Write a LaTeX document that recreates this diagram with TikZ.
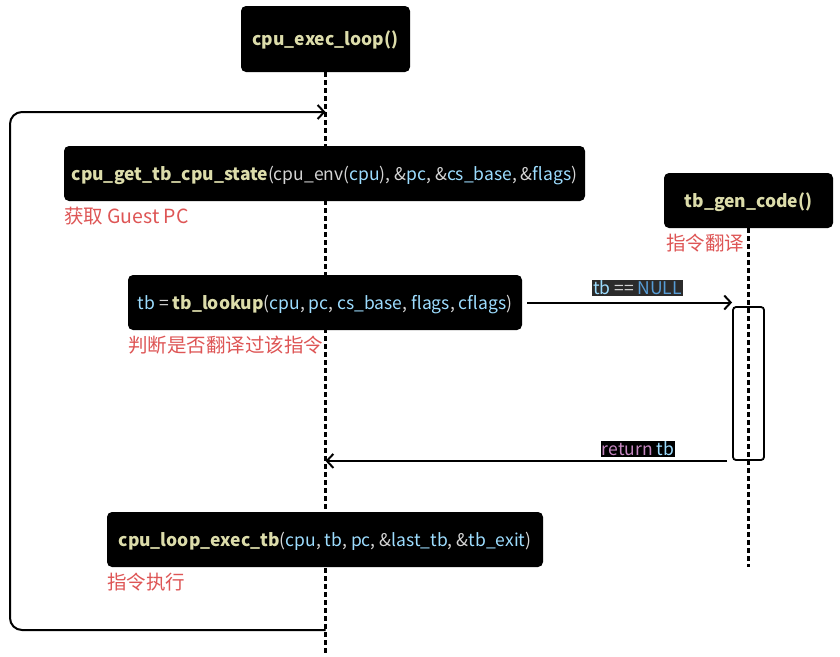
\documentclass[tikz,border=0pt]{standalone}
\usepackage{fontspec}
\setmainfont{Noto Sans CJK SC}
\usetikzlibrary{arrows.meta}
\definecolor{fn}{HTML}{DCDCAA}
\definecolor{var}{HTML}{9CDCFE}
\definecolor{txt}{HTML}{D4D4D4}
\definecolor{kw}{HTML}{C586C0}
\definecolor{cst}{HTML}{569CD6}
\definecolor{notered}{RGB}{222,85,85}
\definecolor{lblgray}{HTML}{2B2B2B}
\pgfdeclarelayer{bg}
\pgfsetlayers{bg,main}
\newcommand{\F}[1]{\textbf{\color{fn}#1}}
\newcommand{\V}[1]{{\color{var}#1}}
\begin{document}
\begin{tikzpicture}[x=1pt,y=-1pt,
  codebox/.style={fill=black, rounded corners=5pt, text=txt, minimum height=55pt,
    inner xsep=0pt, text height=15pt, text depth=2pt, font=\fontsize{17.5}{21}\selectfont},
  actor/.style={codebox, minimum width=169pt},
  note/.style={text=notered, inner sep=0pt, font=\fontsize{19.5}{23}\selectfont},
  lifeline/.style={line width=2.2pt, dash pattern=on 4.5pt off 3.5pt},
  msg/.style={line width=2pt, -{Straight Barb[length=6.5pt,width=14pt,line width=2pt]}},
  msglbl/.style={inner sep=1pt, font=\fontsize{17.5}{21}\selectfont}]
\useasboundingbox (0,0) rectangle (840,656);

\node[actor, minimum height=66pt] (loop) at (325.5,39) {\F{cpu\_exec\_loop()}};
\node[actor] (gen) at (748.5,200.5) {\F{tb\_gen\_code()}};
\node[codebox, minimum width=521pt] (state) at (324.5,173.5)
  {\F{cpu\_get\_tb\_cpu\_state}(cpu\_env(\V{cpu}), \&\V{pc}, \&\V{cs\_base}, \&\V{flags})};
\node[codebox, minimum width=394pt] (lookup) at (325,302.5)
  {\V{tb} = \F{tb\_lookup}(\V{cpu}, \V{pc}, \V{cs\_base}, \V{flags}, \V{cflags})};
\node[codebox, minimum width=436pt] (exec) at (325,539.5)
  {\F{cpu\_loop\_exec\_tb}(\V{cpu}, \V{tb}, \V{pc}, \&\V{last\_tb}, \&\V{tb\_exit})};

\node[note, anchor=west] (n1) at ([yshift=-15pt]state.south west) {获取 Guest PC};
\node[note, anchor=west] (n2) at ([yshift=-15pt]lookup.south west) {判断是否翻译过该指令};
\node[note, anchor=west] (n3) at ([yshift=-15pt]exec.south west) {指令执行};
\node[note, anchor=east] (n4) at ([xshift=-4pt,yshift=-14.5pt]gen.south) {指令翻译};

\node[draw, line width=1.8pt, rounded corners=3pt, minimum width=31pt, minimum height=153pt,
  inner sep=0pt] (act) at (748.5,383.5) {};

\coordinate (l1end) at (loop.south |- 0,656);
\coordinate (l2end) at (gen.south |- 0,567);
\begin{pgfonlayer}{bg}
\fill[white] (0,0) rectangle (840,656);
\draw[lifeline] (loop.south) -- (l1end);
\draw[lifeline] (gen.south) -- (l2end);
\end{pgfonlayer}

\coordinate (top) at (loop.south |- 0,112);
\coordinate (bot) at (loop.south |- 0,630);
\draw[msg, rounded corners=12pt] (bot) -- (10,630) -- (10,112) -- (top);

\coordinate (req) at ([xshift=5pt]lookup.east);
\draw[msg] (req) -- (act.west |- req);
\node[msglbl, fill=lblgray, text=var] (l1) at (637.5,288) {tb {\color{txt}==} {\color{cst}NULL}};

\coordinate (ret) at ([xshift=-5pt]act.south west);
\draw[msg] (ret) -- (loop.south |- ret);
\node[msglbl, fill=black] (l2) at (638,449) {{\color{kw}return} \V{tb}};
\end{tikzpicture}
\end{document}
